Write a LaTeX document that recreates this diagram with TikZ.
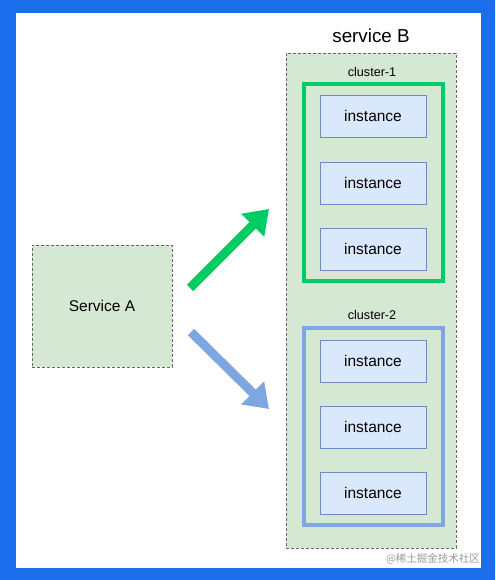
\documentclass[tikz,border=0pt]{standalone}
\usepackage{fontspec}
\setmainfont{Liberation Sans}
\newfontfamily\cjkfont{Noto Sans CJK SC}
\usepackage{tikz}
\usetikzlibrary{arrows.meta, positioning}
\definecolor{frameblue}{HTML}{1A6DEB}
\definecolor{svcgreen}{HTML}{D5E8D4}
\definecolor{instfill}{HTML}{DAE8FC}
\definecolor{instdraw}{HTML}{6C8EBF}
\definecolor{clgreen}{HTML}{00CC66}
\definecolor{clblue}{HTML}{7EA6E0}
\tikzstyle{svc}      = [draw=black!60, dash pattern=on 3pt off 2pt, fill=svcgreen, line width=0.8pt,
                        inner sep=0pt, font=\fontsize{15.5}{18}\selectfont]
\tikzstyle{cluster}  = [line width=4pt, minimum width=139pt, minimum height=197pt, inner sep=0pt]
\tikzstyle{instance} = [draw=instdraw, fill=instfill, line width=0.8pt, minimum width=106pt,
                        minimum height=42pt, inner sep=0pt, font=\fontsize{15.5}{18}\selectfont]
\tikzstyle{bigarrow} = [line width=9pt, -{Triangle[length=23pt,width=31pt]}]

\begin{document}
\begin{tikzpicture}[x=1pt, y=-1pt]
  \useasboundingbox (0,0) rectangle (495,580);
  \fill[frameblue] (0,0) rectangle (495,580);
  \fill[white] (16,13) rectangle (481,568);

  % service B with its two clusters
  \node[font=\fontsize{18.8}{22}\selectfont] (sbt) at (371,36) {service B};
  \node[svc, minimum width=170pt, minimum height=495pt] (sb) at (371,300.5) {};

  \node[font=\fontsize{12.6}{15}\selectfont] (c1t) at (372,72) {cluster-1};
  \node[cluster, draw=clgreen] (c1) at (373.5,182.5) {};
  \node[instance] (i11) at (373,116) {instance};
  \node[instance] (i12) at (373,183) {instance};
  \node[instance] (i13) at (373,249) {instance};

  \node[font=\fontsize{12.6}{15}\selectfont] (c2t) at (372,315) {cluster-2};
  \node[cluster, draw=clblue] (c2) at (373.5,426) {};
  \node[instance] (i21) at (373,361) {instance};
  \node[instance] (i22) at (373,427) {instance};
  \node[instance] (i23) at (373,493) {instance};

  % service A
  \node[svc, minimum width=140pt, minimum height=122pt] (sa) at (102,306) {Service A};

  \coordinate (gs) at (190,288);
  \coordinate (ge) at (269,209);
  \coordinate (bs) at (191,332);
  \coordinate (be) at (269,409);
  \draw[bigarrow, draw=clgreen] (gs) -- (ge);
  \draw[bigarrow, draw=clblue] (bs) -- (be);

  \node[text=black!40, font=\cjkfont\fontsize{10.5}{12}\selectfont] (wm) at (433,559) {@稀土掘金技术社区};
\end{tikzpicture}
\end{document}
